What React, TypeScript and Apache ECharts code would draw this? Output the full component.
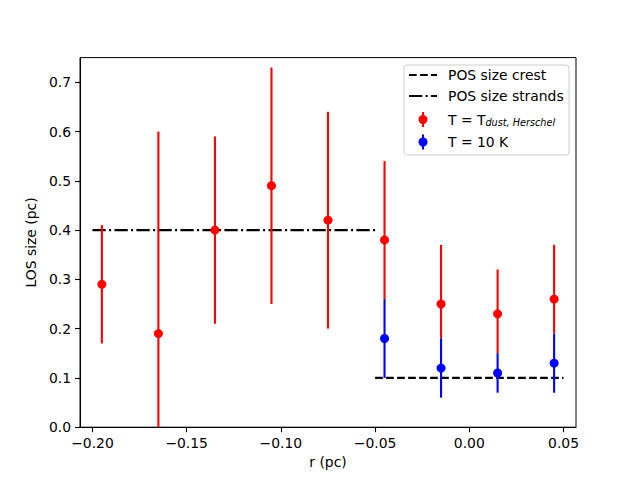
import React, { useEffect, useRef } from "react";
import * as echarts from "echarts";

const rValues = [-0.195, -0.165, -0.135, -0.105, -0.075, -0.045, -0.015, 0.015, 0.045];
const losDust = [0.29, 0.19, 0.40, 0.49, 0.42, 0.38, 0.25, 0.23, 0.26];
const dustLow = [0.17, 0.0, 0.21, 0.25, 0.20, 0.26, 0.18, 0.15, 0.19];
const dustHigh = [0.41, 0.60, 0.59, 0.73, 0.64, 0.54, 0.37, 0.32, 0.37];

const r10 = [-0.045, -0.015, 0.015, 0.045];
const los10 = [0.18, 0.12, 0.11, 0.13];
const low10 = [0.10, 0.06, 0.07, 0.07];
const high10 = [0.26, 0.18, 0.15, 0.19];

const crestX = [-0.05, 0.05];
const crestY = [0.1, 0.1];
const strandsX = [-0.20, -0.05];
const strandsY = [0.40, 0.40];

const xTicks = [-0.2, -0.15, -0.1, -0.05, 0.0, 0.05];
const yTicks = [0, 0.1, 0.2, 0.3, 0.4, 0.5, 0.6, 0.7];

const legendLabels = ["POS size crest", "POS size strands", "T = T", "T = 10 K"];

const FONT = "DejaVu Sans";
const FS = 13.9;

function errSeries(xs: number[], lo: number[], hi: number[], color: string, z: number) {
  return {
    type: "custom",
    z,
    data: xs.map((x, i) => [x, lo[i], hi[i]]),
    renderItem: (params: any, api: any) => {
      const a = api.coord([api.value(0), api.value(1)]);
      const b = api.coord([api.value(0), api.value(2)]);
      return {
        type: "line",
        shape: { x1: a[0], y1: a[1], x2: b[0], y2: b[1] },
        style: { stroke: color, lineWidth: 2.1 },
      };
    },
  };
}

export default function App() {
  const ref = useRef<HTMLDivElement>(null);
  useEffect(() => {
    if (!ref.current) return;
    const chart = echarts.init(ref.current, null, { renderer: "svg" });
    const fmtX = (v: number) => {
      const s = Math.abs(v).toFixed(2);
      return v < -1e-9 ? "\u2212" + s : s;
    };
    const lx1 = 409, lx2 = 437, tx = 448;
    const option: any = {
      animation: false,
      textStyle: { fontFamily: FONT },
      grid: {
        left: 80, right: 64, top: 57.6, bottom: 52.8,
        show: true, borderColor: "#000", borderWidth: 1, backgroundColor: "transparent",
      },
      xAxis: {
        type: "value",
        min: -0.2066,
        max: 0.0566,
        name: "r (pc)",
        nameLocation: "middle",
        nameGap: 28,
        nameTextStyle: { color: "#000", fontSize: FS, fontFamily: FONT },
        splitLine: { show: false },
        axisLine: { show: true, onZero: false, lineStyle: { color: "#000", width: 1 } },
        axisTick: { show: true, length: 5, lineStyle: { color: "#000", width: 1.1 }, customValues: xTicks },
        axisLabel: {
          color: "#000", fontSize: FS, fontFamily: FONT, margin: 9,
          customValues: xTicks, formatter: fmtX,
        },
      },
      yAxis: {
        type: "value",
        min: 0,
        max: 0.75,
        name: "LOS size (pc)",
        nameLocation: "middle",
        nameGap: 42,
        nameTextStyle: { color: "#000", fontSize: FS, fontFamily: FONT },
        splitLine: { show: false },
        axisLine: { show: true, onZero: false, lineStyle: { color: "#000", width: 1 } },
        axisTick: { show: true, length: 5, lineStyle: { color: "#000", width: 1.1 }, customValues: yTicks },
        axisLabel: {
          color: "#000", fontSize: FS, fontFamily: FONT, margin: 9,
          customValues: yTicks, formatter: (v: number) => v.toFixed(1),
        },
      },
      series: [
        {
          type: "line", z: 2, symbol: "none",
          data: crestX.map((x, i) => [x, crestY[i]]),
          lineStyle: { color: "#000", width: 2.1, type: [7.7, 3.3] },
        },
        {
          type: "line", z: 2, symbol: "none",
          data: strandsX.map((x, i) => [x, strandsY[i]]),
          lineStyle: { color: "#000", width: 2.1, type: [13.3, 3.3, 2.1, 3.3] },
        },
        errSeries(rValues, dustLow, dustHigh, "#ff0000", 3),
        {
          type: "scatter", z: 4, symbol: "circle", symbolSize: 9,
          itemStyle: { color: "#ff0000", opacity: 1 },
          data: rValues.map((x, i) => [x, losDust[i]]),
        },
        errSeries(r10, low10, high10, "#0000ff", 5),
        {
          type: "scatter", z: 6, symbol: "circle", symbolSize: 9,
          itemStyle: { color: "#0000ff", opacity: 1 },
          data: r10.map((x, i) => [x, los10[i]]),
        },
      ],
      graphic: [
        {
          type: "rect", z: 100,
          shape: { x: 404, y: 65, width: 165, height: 90, r: 3 },
          style: { fill: "rgba(255,255,255,0.8)", stroke: "#cccccc", lineWidth: 1 },
        },
        {
          type: "line", z: 101,
          shape: { x1: lx1, y1: 75, x2: lx2, y2: 75 },
          style: { stroke: "#000", lineWidth: 2.1, lineDash: [7.7, 3.3] },
        },
        {
          type: "text", z: 101, x: tx, y: 75,
          style: { text: legendLabels[0], fill: "#000", font: `${FS}px ${FONT}`, verticalAlign: "middle" },
        },
        {
          type: "line", z: 101,
          shape: { x1: lx1, y1: 96, x2: lx2, y2: 96 },
          style: { stroke: "#000", lineWidth: 2.1, lineDash: [13.3, 3.3, 2.1, 3.3] },
        },
        {
          type: "text", z: 101, x: tx, y: 96,
          style: { text: legendLabels[1], fill: "#000", font: `${FS}px ${FONT}`, verticalAlign: "middle" },
        },
        {
          type: "line", z: 101,
          shape: { x1: 423, y1: 112, x2: 423, y2: 127 },
          style: { stroke: "#ff0000", lineWidth: 2.1 },
        },
        {
          type: "circle", z: 102,
          shape: { cx: 423, cy: 119.5, r: 4.5 },
          style: { fill: "#ff0000" },
        },
        {
          type: "text", z: 101, x: tx, y: 119.5,
          style: {
            text: `{a|${legendLabels[2]}}{b|dust, Herschel}`,
            verticalAlign: "middle",
            rich: {
              a: { fill: "#000", fontSize: FS, fontFamily: FONT },
              b: { fill: "#000", fontSize: 9.7, fontFamily: FONT, fontStyle: "italic", padding: [6, 0, 0, 0] },
            },
          },
        },
        {
          type: "line", z: 101,
          shape: { x1: 423, y1: 134.5, x2: 423, y2: 149.5 },
          style: { stroke: "#0000ff", lineWidth: 2.1 },
        },
        {
          type: "circle", z: 102,
          shape: { cx: 423, cy: 142, r: 4.5 },
          style: { fill: "#0000ff" },
        },
        {
          type: "text", z: 101, x: tx, y: 142,
          style: { text: legendLabels[3], fill: "#000", font: `${FS}px ${FONT}`, verticalAlign: "middle" },
        },
      ],
    };
    chart.setOption(option);
    return () => chart.dispose();
  }, []);
  return <div ref={ref} style={{ width: 640, height: 480, position: "absolute", left: 0, top: 0 }} />;
}
